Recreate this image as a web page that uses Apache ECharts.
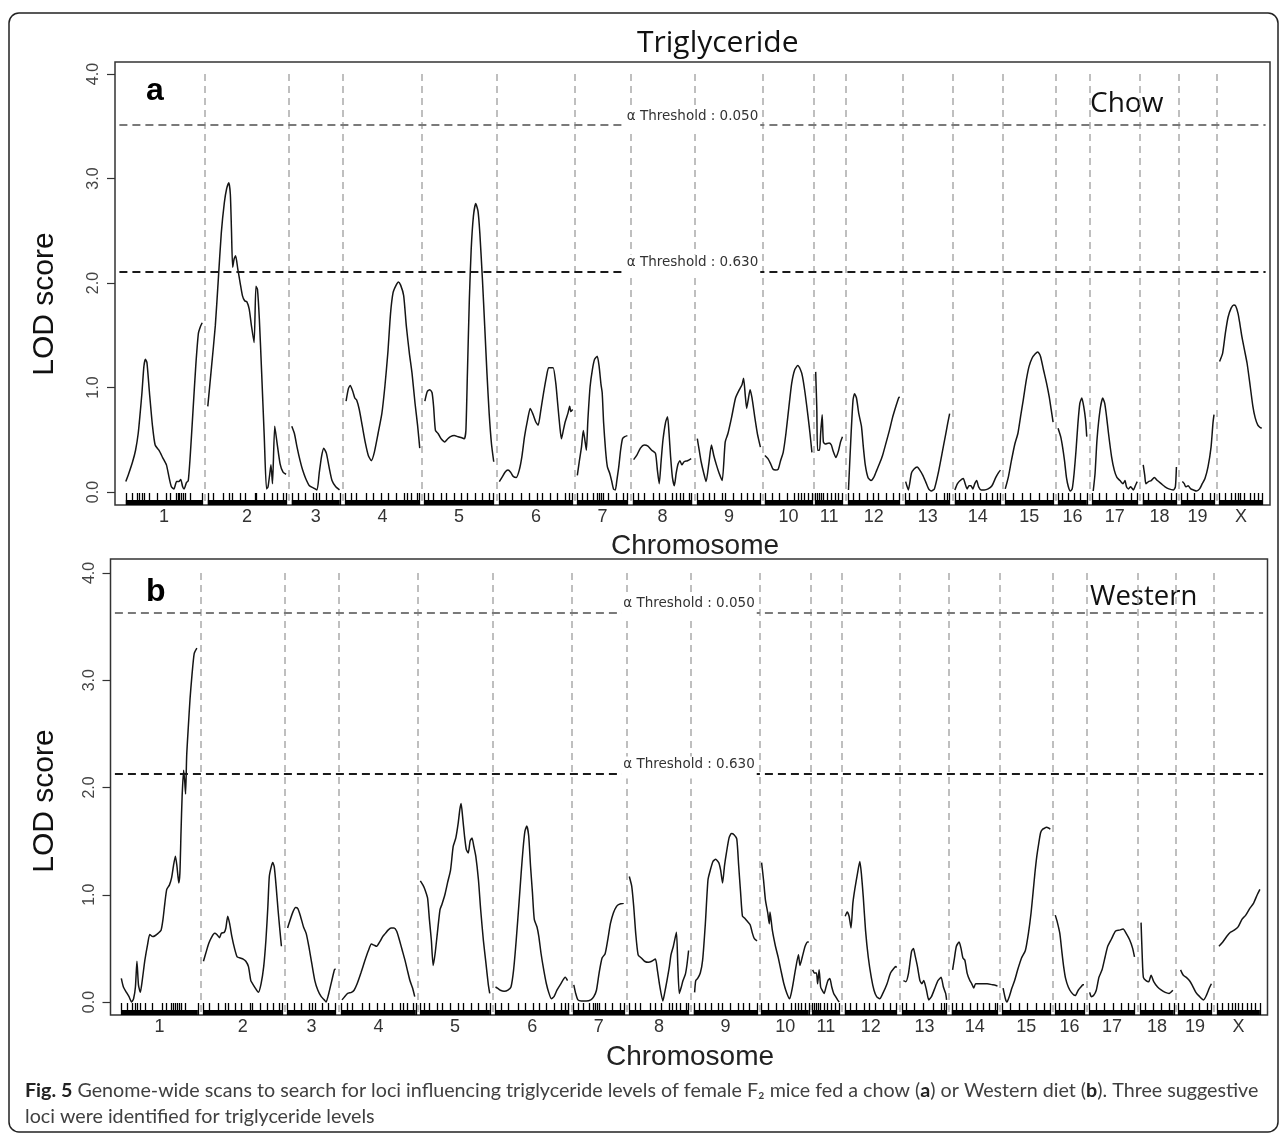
<!DOCTYPE html>
<html>
<head>
<meta charset="utf-8">
<script src="https://cdn.jsdelivr.net/npm/echarts@6/dist/echarts.min.js"></script>
<style>html,body{margin:0;padding:0;background:#fff}#c{width:1282px;height:1134px}</style>
</head>
<body>
<div id="c"></div>
<script>
// ---------------- data ----------------
const chromosomes = ['1','2','3','4','5','6','7','8','9','10','11','12','13','14','15','16','17','18','19','X'];
// genome layout (cM, cumulative start of each chromosome, and its length)
const chrStart  = [13.5, 116, 221, 288, 386.5, 480.5, 578, 647.5, 728, 812.5, 876, 916.5, 988.5, 1050, 1113, 1179, 1222, 1285, 1333, 1381];
const chrLength = [95.5, 98, 60, 93, 87, 92, 63, 74, 79, 59, 33.5, 64.5, 55, 57, 60, 36, 56, 42, 41, 53.5];
const genomeMax = 1444;
const yTicks = [0, 1, 2, 3, 4];
const thresholdLevels = ['0.050', '0.630'];
const chowThresholds = [3.51, 2.11];
const westernThresholds = [3.63, 2.13];

// marker positions (cM within chromosome) – rug
const markerPos = [
 [0,7.5,14,17,20,23.5,29.6,39,50.8,55.5,62.6,65,67.3,69.6,72,74.3,80,95.5],
 [0,7,18.8,27.3,30.6,40,47,58.8,61,70.6,80,87,94,98],
 [0,8,17.4,26.8,30.6,34,43.3,50.3,60],
 [0,7,14,26,35,44.7,54,63.5,73,77.6,82,89.4,93],
 [0,4.7,11.8,21,28,37.6,47,54,63.5,73,82,87],
 [0,7,16.5,28,37.6,47,54,63.5,73,82,87,91],
 [0,6,12,20,25,27.3,29.6,32,39,48.5,58,62.6],
 [0,7,14,26,33,40,49.4,54,58.8,63.5,70.6,73.5],
 [0,7.2,14.4,21.5,31,35,45.5,55,62,69.4,79],
 [0,8.6,18,27.7,37.3,42,46,49,54,59],
 [0,2.4,4.8,7.2,9.6,14.4,19,24,28.7,33.5],
 [0,7,14.4,24,31,38,48,57,64.5],
 [0,4.8,14.4,26,38,48,52.6,55],
 [0,5.7,13,22.5,32,39,46.4,53.6,57],
 [0,9.6,21.5,31,43,52.6,60],
 [0,5.7,13,20,27.3,36],
 [0,8,17.7,29.7,39,48.8,56],
 [0,7,16.7,26.3,36,42],
 [0,7,16.7,26.3,36,41],
 [0,7,14.4,19,23,26.3,31,38.3,43,48,53.5]
];

// LOD profiles, chow diet: [cM within chromosome, LOD]
const chowLod = [
 [[0,0.10],[3.8,0.18],[8.5,0.29],[12.2,0.40],[15.5,0.56],[17.9,0.75],[20.2,0.95],[22.6,1.20],[24.5,1.27],[26.4,1.24],[29.6,0.95],[33.4,0.63],[36.7,0.45],[41.4,0.40],[46.1,0.33],[50.8,0.26],[54.1,0.14],[57,0.05],[60.2,0.03],[63.5,0.10],[66.3,0.10],[68.7,0.12],[71.1,0.05],[73,0.03],[75.8,0.09],[78.1,0.11],[80.5,0.34],[83.8,0.75],[87.5,1.21],[90.8,1.52],[93.1,1.58],[95.5,1.62]],
 [[0,0.82],[4.7,1.20],[9.4,1.59],[13.2,2.04],[16.9,2.48],[20.7,2.77],[23.5,2.90],[26.3,2.96],[28.2,2.85],[29.6,2.51],[31.1,2.15],[32.9,2.23],[34.8,2.26],[37.6,2.13],[40.5,2.00],[43.3,1.88],[46.1,1.83],[48.9,1.82],[51.8,1.75],[54.6,1.59],[57.9,1.43],[60.2,1.97],[62.1,1.94],[64.5,1.65],[67.3,1.15],[70.6,0.53],[73.4,0.03],[75.3,0.05],[77.6,0.18],[79,0.26],[80.9,0.08],[83.7,0.63],[86.6,0.47],[90.4,0.27],[94.1,0.19],[97.9,0.17]],
 [[0,0.63],[3.3,0.56],[6.6,0.43],[10.4,0.30],[13.6,0.21],[17.4,0.13],[22.1,0.06],[26.8,0.04],[31.5,0.02],[34.3,0.18],[37.2,0.34],[40,0.42],[43.3,0.37],[46.6,0.24],[50.3,0.11],[55,0.05],[59.7,0.02]],
 [[0.9,0.87],[3.8,0.99],[6.1,1.02],[9.4,0.96],[11.8,0.90],[14.1,0.88],[17.4,0.79],[21.2,0.63],[25,0.47],[28.7,0.35],[32.5,0.30],[36.2,0.38],[40.9,0.56],[45.6,0.75],[49.4,1.01],[53.1,1.33],[56.5,1.71],[59.7,1.91],[63.5,1.98],[66.3,2.01],[69.1,1.98],[72.9,1.88],[76.2,1.59],[80,1.33],[83.3,1.14],[87.1,0.85],[90.4,0.63],[93,0.42]],
 [[0.9,0.87],[3.8,0.96],[7.1,0.98],[9.9,0.95],[11.8,0.82],[14.1,0.59],[17.4,0.56],[21.2,0.51],[25.9,0.48],[29.6,0.51],[32.9,0.53],[37.6,0.54],[42.3,0.53],[47.1,0.52],[50.3,0.51],[52.2,0.59],[54.1,1.14],[56.5,1.84],[58.8,2.32],[61.6,2.64],[64.5,2.76],[67.3,2.69],[69.6,2.48],[72.9,2.03],[75.7,1.59],[78.5,1.14],[81.3,0.75],[84.2,0.46],[87,0.29]],
 [[0,0.10],[3.3,0.14],[7.1,0.19],[10.8,0.21],[14.1,0.19],[17.4,0.15],[21.2,0.14],[24.9,0.21],[28.2,0.34],[31.5,0.53],[35.3,0.69],[38.6,0.80],[42.3,0.74],[45.6,0.67],[48.5,0.64],[51.8,0.78],[55.1,0.94],[58.8,1.10],[61.6,1.19],[64.5,1.19],[67.3,1.19],[70.6,1.04],[72.9,0.85],[75.7,0.62],[77.6,0.51],[80,0.59],[82.3,0.67],[85.6,0.75],[88,0.82],[89.4,0.77],[91.7,0.79]],
 [[0,0.16],[2.8,0.31],[5.2,0.43],[7.5,0.59],[9.4,0.50],[11.3,0.40],[13.2,0.69],[16,1.01],[18.8,1.17],[21.6,1.27],[24.9,1.30],[27.3,1.20],[29.6,1.03],[31.1,0.95],[32.9,0.66],[35.3,0.40],[37.6,0.24],[40.5,0.18],[42.8,0.11],[45.2,0.03],[47.5,0.02],[49.4,0.11],[51.8,0.24],[54.1,0.40],[56.5,0.51],[59.3,0.53],[62.6,0.54]],
 [[0.9,0.31],[4.7,0.35],[9.4,0.42],[14.1,0.45],[18.8,0.44],[23.5,0.40],[28.2,0.37],[30.6,0.21],[32.9,0.08],[35.3,0.30],[37.6,0.50],[40.9,0.67],[43.3,0.72],[45.2,0.56],[47.1,0.34],[49.4,0.14],[51.8,0.06],[54.1,0.18],[56.5,0.27],[58.8,0.30],[61.2,0.26],[64,0.29],[68.2,0.30],[72.9,0.32]],
 [[0,0.51],[2.4,0.40],[4.8,0.29],[8.1,0.18],[11,0.10],[14.4,0.27],[17.7,0.45],[20.6,0.35],[23.9,0.26],[27.3,0.18],[31.1,0.11],[34.9,0.48],[38.3,0.56],[43,0.72],[47.8,0.90],[52.6,0.98],[56,1.03],[57.9,1.09],[59.8,0.94],[61.7,0.80],[63.6,0.88],[66,0.98],[68.4,0.90],[71.8,0.72],[75.1,0.56],[78.9,0.43]],
 [[0,0.35],[3.8,0.32],[7.2,0.27],[10,0.22],[13.4,0.21],[16.7,0.22],[19.6,0.30],[22.9,0.38],[26.3,0.56],[30.1,0.82],[33.5,1.04],[37.3,1.17],[41.1,1.21],[44.5,1.17],[46.9,1.11],[50.2,0.95],[54,0.72],[56.4,0.56],[58.8,0.38]],
 [[0,1.15],[1.4,0.80],[2.4,0.40],[4.8,0.40],[6.2,0.56],[8.1,0.74],[9.6,0.48],[12,0.46],[16.7,0.47],[19.6,0.45],[21.5,0.40],[25.4,0.33],[28.7,0.40],[31.1,0.48],[33.5,0.53]],
 [[0.5,0.02],[3.8,0.56],[6.2,0.88],[8.1,0.94],[10.5,0.90],[13.4,0.75],[16.7,0.63],[19.1,0.43],[21.5,0.26],[24.9,0.14],[28.7,0.11],[32.1,0.14],[35.9,0.21],[39.2,0.27],[43.1,0.35],[47.8,0.48],[51.7,0.59],[55.5,0.71],[59.8,0.82],[63.2,0.90],[64.5,0.91]],
 [[0,0.10],[3.3,0.02],[7.2,0.18],[10.5,0.22],[14.4,0.24],[17.7,0.21],[21.5,0.16],[24.9,0.10],[28.7,0.03],[32.1,0.01],[35.9,0.03],[40.7,0.18],[45.5,0.37],[50.2,0.56],[52.6,0.66],[55,0.75]],
 [[0,0.02],[3.3,0.08],[6.7,0.11],[10.5,0.13],[12.9,0.08],[15.3,0.03],[17.7,0.06],[20.1,0.06],[22.5,0.03],[24.9,0.08],[27.3,0.11],[29.7,0.05],[33,0.02],[36.8,0.02],[41.6,0.03],[46.4,0.06],[51.2,0.14],[55,0.19],[57,0.21]],
 [[0,0.03],[3.8,0.14],[7.7,0.30],[12,0.46],[15.8,0.56],[19.1,0.72],[22.5,0.88],[26.3,1.07],[29.7,1.20],[33.5,1.28],[37.3,1.32],[40.7,1.34],[44,1.30],[47.8,1.17],[51.7,1.04],[55,0.91],[57.4,0.79],[59.8,0.67]],
 [[0,0.61],[3.3,0.53],[5.7,0.43],[8.1,0.30],[10.5,0.14],[12.9,0.05],[15.3,0.01],[17.7,0.03],[20.1,0.18],[22.5,0.40],[24.9,0.66],[27.3,0.85],[29.7,0.90],[32.1,0.82],[34.4,0.69],[35.9,0.53]],
 [[1,0.01],[3.3,0.18],[5.7,0.50],[9.6,0.79],[12.9,0.90],[15.3,0.85],[17.7,0.72],[20.1,0.56],[23.9,0.34],[27.3,0.21],[30.6,0.14],[34.4,0.11],[38.3,0.08],[40.7,0.11],[42.6,0.05],[45,0.03],[47.8,0.05],[51.2,0.02],[53.6,0.06],[56,0.10]],
 [[0.5,0.26],[2.4,0.16],[3.8,0.08],[7.2,0.10],[10.5,0.11],[14.4,0.14],[18.2,0.11],[23,0.08],[27.8,0.05],[32.5,0.03],[38.3,0.02],[40.7,0.05],[42,0.24]],
 [[1.4,0.10],[3.8,0.08],[5.7,0.05],[8.6,0.06],[12,0.03],[15.3,0.02],[19.1,0.01],[23,0.03],[26.3,0.08],[29.7,0.13],[33.5,0.24],[37.3,0.43],[39.7,0.66],[41,0.74]],
 [[0,1.25],[3.8,1.33],[7.2,1.52],[10.5,1.67],[14.4,1.76],[17.7,1.79],[20.1,1.78],[23,1.71],[24.9,1.63],[27.8,1.49],[31.1,1.36],[34.4,1.23],[38.3,1.01],[41.6,0.82],[44.5,0.71],[47.8,0.64],[50.2,0.62],[52.6,0.61]]
];

// LOD profiles, Western diet
const westernLod = [
 [[0,0.22],[2.6,0.14],[6.4,0.09],[9.6,0.05],[12.9,0.0],[15.3,0.03],[17.6,0.14],[19.5,0.38],[21.4,0.16],[23.7,0.09],[26.1,0.20],[29.4,0.39],[33.1,0.55],[35.5,0.63],[39.2,0.61],[42.5,0.62],[45.8,0.64],[49.6,0.67],[52,0.77],[54.3,0.92],[56.7,1.05],[60,1.09],[62.8,1.16],[65.1,1.27],[67.5,1.36],[69.4,1.27],[71.7,1.11],[73.1,1.20],[74.5,1.58],[75.9,1.92],[77.8,2.16],[79.2,2.05],[80.2,1.94],[81.6,2.30],[83.5,2.55],[85.8,2.83],[88.2,3.05],[91,3.25],[94.3,3.30]],
 [[0,0.38],[3.5,0.47],[6.8,0.55],[10.6,0.61],[13.9,0.64],[16.7,0.63],[20,0.60],[22.4,0.64],[26.1,0.65],[28,0.69],[30.3,0.80],[32.7,0.73],[35.5,0.61],[38.8,0.50],[42.1,0.42],[45.9,0.41],[49.6,0.40],[52.9,0.38],[56.2,0.33],[59.1,0.20],[61.4,0.17],[64.7,0.13],[68.5,0.09],[71.9,0.17],[75.2,0.33],[78,0.58],[80.4,0.89],[82.2,1.17],[84.6,1.26],[86.5,1.30],[88.4,1.26],[90.7,1.08],[93.1,0.86],[95.4,0.67],[97.3,0.52]],
 [[0,0.69],[3,0.76],[6.7,0.84],[10,0.88],[12.8,0.87],[16.1,0.80],[19.9,0.70],[23.2,0.64],[26.5,0.52],[30.2,0.36],[34,0.20],[37.8,0.11],[42,0.05],[45.8,0.02],[48.1,0.0],[51.4,0.08],[55.2,0.20],[58.5,0.30],[59.9,0.31]],
 [[0.9,0.02],[4.2,0.05],[8,0.08],[12.7,0.09],[16,0.11],[19.8,0.17],[24.5,0.27],[29.2,0.38],[33.9,0.48],[37.6,0.54],[40.9,0.53],[44.2,0.52],[48,0.56],[51.7,0.61],[55.1,0.64],[58.4,0.67],[62.1,0.69],[65.9,0.69],[69.2,0.66],[72.5,0.58],[76.2,0.48],[79.5,0.39],[82.4,0.30],[85.7,0.20],[89,0.13],[91.7,0.05]],
 [[0.2,1.13],[3.5,1.09],[5.9,1.05],[9.2,0.97],[11.5,0.77],[13.9,0.58],[16.2,0.34],[18.6,0.45],[21.4,0.64],[24.7,0.86],[27.1,0.91],[30.8,1.00],[34.1,1.11],[37.9,1.23],[41.2,1.45],[44.5,1.53],[47.3,1.66],[49.6,1.80],[51.1,1.85],[52.9,1.73],[55.3,1.55],[57.6,1.42],[60,1.39],[62.3,1.50],[64.7,1.53],[67,1.45],[69.4,1.36],[72.7,1.14],[75.5,0.86],[78.8,0.58],[82.1,0.36],[84.9,0.17],[86.8,0.08]],
 [[0,0.14],[2.4,0.13],[6.1,0.11],[10.8,0.10],[15.5,0.11],[19.3,0.14],[22.6,0.30],[25.9,0.58],[29.6,0.95],[32,1.20],[34.3,1.42],[36.7,1.59],[39,1.64],[41.4,1.55],[43.7,1.27],[46.1,1.02],[48.4,0.77],[51.8,0.70],[54.1,0.61],[56.9,0.45],[60.2,0.30],[63.5,0.17],[66.4,0.09],[69.7,0.03],[73,0.05],[76.7,0.11],[81.5,0.17],[87.1,0.23],[89.9,0.20]],
 [[0.2,0.16],[2.6,0.08],[5.4,0.02],[9.6,0.01],[15.7,0.01],[21.4,0.02],[25.2,0.05],[28.5,0.11],[31.8,0.27],[35.5,0.41],[39.3,0.45],[42.6,0.58],[45.9,0.73],[49.6,0.83],[53.4,0.89],[56.7,0.91],[62.5,0.92]],
 [[0,1.17],[3,1.08],[5.5,0.89],[8,0.64],[11,0.44],[15,0.41],[19,0.38],[24,0.37],[28,0.38],[32.6,0.40],[35,0.30],[38,0.15],[41.9,0.01],[44,0.08],[47,0.20],[50,0.33],[52,0.44],[55,0.52],[58.8,0.65],[60.5,0.35],[62.4,0.08],[64.9,0.14],[67,0.20],[70,0.26],[72,0.35],[74,0.48]],
 [[1,0.09],[2.4,0.20],[4.8,0.22],[8.1,0.27],[11,0.39],[14.4,0.73],[17.7,1.14],[20.6,1.23],[23.9,1.31],[27.3,1.33],[31.1,1.30],[33.5,1.23],[35.9,1.11],[38.3,1.27],[40.7,1.39],[44,1.53],[46.9,1.57],[50.2,1.56],[53.6,1.52],[56,1.27],[58.4,1.02],[60.7,0.80],[63.6,0.78],[67,0.75],[70.3,0.72],[73.2,0.64],[75.6,0.59],[78.9,0.57]],
 [[0.1,1.30],[2.5,1.14],[4.9,0.95],[7.8,0.83],[9.7,0.73],[10.6,0.84],[13.5,0.67],[17.4,0.52],[20.7,0.42],[24.1,0.30],[27.9,0.17],[31.7,0.08],[35.1,0.03],[38.4,0.13],[42.3,0.30],[46.1,0.44],[48,0.34],[50.9,0.42],[54.4,0.52],[57.7,0.56],[59,0.56]],
 [[0.3,0.30],[2.7,0.27],[5.1,0.27],[6.5,0.17],[8.4,0.30],[10.3,0.14],[12.2,0.11],[14.6,0.08],[17,0.14],[19.4,0.20],[21.8,0.22],[24.2,0.14],[26.6,0.08],[29,0.05],[31.4,0.02],[33.5,0.0]],
 [[0.5,0.80],[2.9,0.84],[5.3,0.80],[7.7,0.69],[10,0.92],[12.4,1.05],[15.8,1.20],[18.7,1.31],[20.6,1.20],[23,0.98],[25.8,0.67],[29.2,0.42],[33,0.23],[36.4,0.11],[39.7,0.05],[43.5,0.03],[47.4,0.08],[52.2,0.16],[57,0.27],[60.8,0.31],[63.6,0.33],[64.5,0.32]],
 [[1.1,0.20],[4.1,0.19],[7.5,0.27],[11.2,0.47],[13.6,0.50],[15.5,0.44],[18.4,0.34],[21.7,0.20],[24.1,0.17],[26.5,0.20],[29.9,0.11],[32.7,0.02],[36.1,0.05],[40.9,0.14],[44.2,0.20],[48.1,0.23],[51,0.14],[53.8,0.08],[55,0.02]],
 [[1,0.30],[3.3,0.41],[5.7,0.52],[9.1,0.56],[11.5,0.50],[13.9,0.41],[16.3,0.39],[19.1,0.27],[22.5,0.20],[24.9,0.17],[27.3,0.13],[29.7,0.17],[32.1,0.17],[36.8,0.17],[44,0.17],[51.2,0.16],[57,0.15]],
 [[1,0.13],[3.9,0.03],[5.8,0.0],[8.7,0.05],[12,0.13],[15.4,0.20],[19.2,0.30],[24,0.41],[28.8,0.48],[32.6,0.64],[35.9,0.83],[38.4,1.02],[40.7,1.20],[43.1,1.36],[45.5,1.48],[47.9,1.58],[50.3,1.61],[52.7,1.62],[55,1.63],[58.4,1.62],[59.9,1.61]],
 [[0.1,0.81],[2.5,0.75],[5.8,0.64],[8.2,0.48],[10.6,0.33],[13,0.22],[16.4,0.14],[20.2,0.09],[25,0.06],[28.8,0.11],[32.1,0.14],[34.5,0.16],[36,0.16]],
 [[0.1,0.09],[2,0.05],[4.9,0.06],[8.3,0.11],[11.6,0.23],[15.5,0.30],[19.3,0.42],[22.6,0.52],[27.4,0.59],[32.2,0.66],[37,0.67],[41.8,0.68],[45.6,0.64],[49.9,0.58],[53.7,0.50],[56,0.42]],
 [[1.2,0.74],[2.7,0.42],[4.1,0.23],[7.4,0.20],[10.8,0.19],[13.7,0.25],[17,0.19],[21.8,0.14],[26.6,0.11],[31.4,0.09],[36.1,0.08],[40.9,0.11]],
 [[2.5,0.30],[5.9,0.25],[9.7,0.23],[13.5,0.20],[16.8,0.16],[21.6,0.09],[26.4,0.05],[31.2,0.02],[34.6,0.06],[38.4,0.13],[41,0.17]],
 [[2.4,0.52],[7.2,0.56],[12,0.61],[16.7,0.65],[21.5,0.67],[26.3,0.70],[31.1,0.77],[35.9,0.81],[40.7,0.87],[45.5,0.92],[50.2,1.00],[53.5,1.05]]
];

// ---------------- derived ----------------
const chrEnd = chrStart.map((s, i) => s + chrLength[i]);
const chrCenter = chrStart.map((s, i) => s + chrLength[i] / 2);
const boundaries = chrStart.slice(1).map((s, i) => (chrEnd[i] + s) / 2);
const rugPositions = [];
markerPos.forEach((arr, i) => arr.forEach(m => rugPositions.push(chrStart[i] + m)));
const thrFrom = chrStart[0] - 8, thrTo = chrEnd[chrEnd.length - 1] + 4;

const panels = [
  { scan: chowLod, thresholds: chowThresholds, grid: { left: 115, top: 62, width: 1155, height: 443 }, yMin: -0.124, yMax: 4.115 },
  { scan: westernLod, thresholds: westernThresholds, grid: { left: 110.5, top: 559, width: 1157, height: 456 }, yMin: -0.121, yMax: 4.13 }
];

const grids = [], xAxes = [], yAxes = [], series = [];
panels.forEach((p, pi) => {
  grids.push(Object.assign({ show: true, borderColor: '#333', borderWidth: 1.5, backgroundColor: 'transparent' }, p.grid));
  xAxes.push({
    type: 'value', gridIndex: pi, min: 0, max: genomeMax, position: 'bottom',
    axisLine: { show: false, onZero: false }, splitLine: { show: false },
    axisTick: { show: true, inside: true, length: 12, customValues: rugPositions, lineStyle: { color: '#000', width: 1.3 } },
    axisLabel: {
      customValues: chrCenter, margin: 3, fontSize: 18, color: '#333', fontFamily: 'Liberation Sans',
      formatter: v => { let k = 0, d = 1e9; chrCenter.forEach((c, i) => { if (Math.abs(c - v) < d) { d = Math.abs(c - v); k = i; } }); return chromosomes[k]; }
    }
  });
  yAxes.push({
    type: 'value', gridIndex: pi, min: p.yMin, max: p.yMax, position: 'left',
    axisLine: { show: false, onZero: false }, splitLine: { show: false },
    axisTick: { show: true, length: 8, customValues: yTicks, lineStyle: { color: '#333', width: 1.2 } },
    axisLabel: { customValues: yTicks, rotate: 90, margin: 13, fontSize: 16, color: '#444', fontFamily: 'Liberation Sans', formatter: v => v.toFixed(1) }
  });
  const bandTop = p.yMin + 5 * (p.yMax - p.yMin) / p.grid.height;
  p.scan.forEach((pts, ci) => {
    const s = {
      type: 'line', xAxisIndex: pi, yAxisIndex: pi, silent: true, animation: false,
      data: pts.map(d => [chrStart[ci] + d[0], d[1]]),
      symbol: 'none', smooth: 0.2, z: 3,
      lineStyle: { color: '#151515', width: 1.5 }
    };
    if (ci === 0) {
      const ml = boundaries.map(b => [
        { coord: [b, 4.0], lineStyle: { color: '#ababab', width: 1.5, type: [7, 5] } },
        { coord: [b, p.yMin] }
      ]);
      p.thresholds.forEach((t, k) => ml.push([
        { coord: [thrFrom, t], lineStyle: { color: k === 0 ? '#7a7a7a' : '#1a1a1a', width: 2, type: [8, 5] },
          label: { show: true, position: 'middle', distance: -5, formatter: 'α Threshold : ' + thresholdLevels[k],
                   fontSize: 13.5, color: '#333', fontFamily: 'DejaVu Sans', backgroundColor: '#fff', padding: [1, 2, 7, 2] } },
        { coord: [thrTo, t] }
      ]));
      s.markLine = { silent: true, animation: false, symbol: ['none', 'none'], label: { show: false }, data: ml };
      s.markArea = {
        silent: true, animation: false, itemStyle: { color: '#000' }, label: { show: false },
        data: chrStart.map((st, i) => [{ coord: [st, p.yMin] }, { coord: [chrEnd[i], bandTop] }])
      };
    }
    series.push(s);
  });
});

const T = (x, y, text, font, fill, extra) => Object.assign({
  type: 'text', x, y, silent: true,
  style: Object.assign({ text, font, fill, align: 'left', verticalAlign: 'middle', textAlign: 'left', textVerticalAlign: 'middle' }, extra || {})
});

const graphics = [
  { type: 'rect', shape: { x: 9, y: 13, width: 1269, height: 1119, r: 10 }, style: { fill: 'none', stroke: '#222', lineWidth: 1.5 }, silent: true },
  T(637, 43, 'Triglyceride', '30px "Open Sans"', '#111'),
  T(1090, 104, 'Chow', '28px "Open Sans"', '#111'),
  T(1090, 597, 'Western', '27.5px "Open Sans"', '#111'),
  T(146, 91, 'a', 'bold 32px "Liberation Sans"', '#000'),
  T(146, 592, 'b', 'bold 32px "Liberation Sans"', '#000'),
  T(695, 546, 'Chromosome', '28px "Liberation Sans"', '#222', { align: 'center', textAlign: 'center' }),
  T(690, 1057, 'Chromosome', '28px "Liberation Sans"', '#222', { align: 'center', textAlign: 'center' }),
  Object.assign(T(45, 304, 'LOD score', '30px "Liberation Sans"', '#111', { align: 'center', textAlign: 'center' }), { rotation: Math.PI / 2 }),
  Object.assign(T(45, 801, 'LOD score', '30px "Liberation Sans"', '#111', { align: 'center', textAlign: 'center' }), { rotation: Math.PI / 2 }),
  {
    type: 'text', x: 25, y: 1078, silent: true,
    style: {
      text: '{b|Fig. 5} Genome-wide scans to search for loci influencing triglyceride levels of female F₂ mice fed a chow ({b|a}) or Western diet ({b|b}). Three suggestive\nloci were identified for triglyceride levels',
      font: '19.7px Lato', fill: '#404040', lineHeight: 26, verticalAlign: 'top', textVerticalAlign: 'top',
      rich: { b: { fontWeight: 'bold', fontSize: 19.7, fontFamily: 'Lato', fill: '#222', lineHeight: 26 } }
    }
  }
];

const chart = echarts.init(document.getElementById('c'), null, { renderer: 'canvas' });
chart.setOption({
  animation: false, backgroundColor: '#fff',
  grid: grids, xAxis: xAxes, yAxis: yAxes, series: series, graphic: graphics
});
</script>
</body>
</html>
